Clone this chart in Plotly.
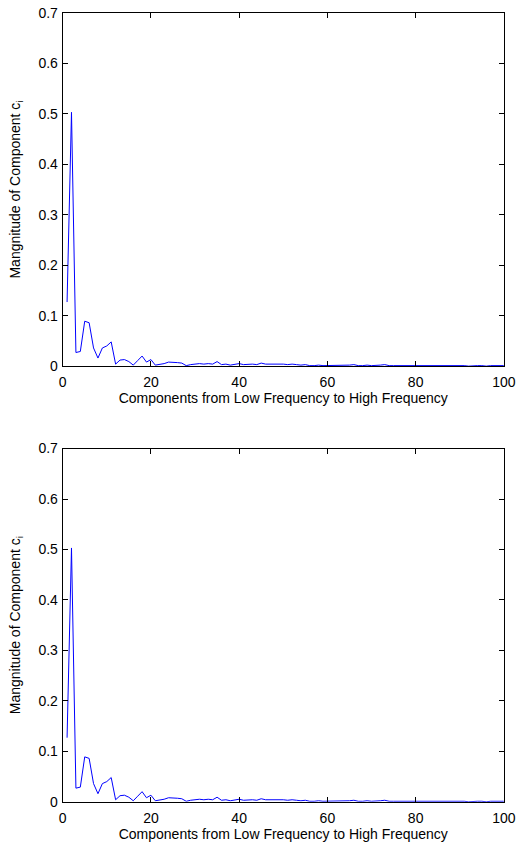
import plotly.graph_objects as go

components = list(range(1, 101))
magnitude = [
    0.127, 0.503, 0.027, 0.029, 0.089, 0.086, 0.036, 0.016, 0.036, 0.040,
    0.048, 0.004, 0.012, 0.013, 0.009, 0.002, 0.011, 0.020, 0.008, 0.013,
    0.002, 0.003, 0.005, 0.008, 0.008, 0.007, 0.006, 0.001, 0.003, 0.004,
    0.005, 0.004, 0.005, 0.004, 0.009, 0.003, 0.004, 0.002, 0.004, 0.005,
    0.003, 0.004, 0.004, 0.003, 0.006, 0.004, 0.004, 0.005, 0.004, 0.004,
    0.003, 0.004, 0.003, 0.002, 0.003, 0.001, 0.001, 0.002, 0.001, 0.001,
    0.001, 0.002, 0.001, 0.001, 0.002, 0.003, 0.001, 0.001, 0.002, 0.001,
    0.001, 0.002, 0.003, 0.001, 0.001, 0.001, 0.001, 0.001, 0.002, 0.001,
    0.001, 0.001, 0.002, 0.001, 0.002, 0.001, 0.001, 0.001, 0.001, 0.002,
    0.001, 0.000, 0.001, 0.001, 0.001, 0.000, 0.001, 0.001, 0.000, 0.001,
]
x_ticks = [0, 20, 40, 60, 80, 100]
y_ticks = [0, 0.1, 0.2, 0.3, 0.4, 0.5, 0.6, 0.7]
y_ticklabels = ["0", "0.1", "0.2", "0.3", "0.4", "0.5", "0.6", "0.7"]
x_title = "Components from Low Frequency to High Frequency"
y_title = "Mangnitude of Component c<sub>i</sub>"

W, H = 528, 850


def fx(s):
    return s / W


def fy(s):
    return (H - s) / H


fig = go.Figure()
font = dict(family="Liberation Sans, Arial, sans-serif", size=14, color="black")

xdom = [fx(60.5), fx(515.5)]
ydoms = [[fy(365), fy(5)], [fy(809), fy(449)]]

for i, yd in enumerate(ydoms):
    xa = "x" if i == 0 else "x2"
    ya = "y" if i == 0 else "y2"
    fig.add_trace(go.Scatter(x=components, y=magnitude, mode="lines",
                             line=dict(color="#0000ff", width=1),
                             xaxis=xa, yaxis=ya, showlegend=False))
    axcommon = dict(showline=True, linecolor="black", linewidth=1, mirror="ticks",
                    ticks="inside", ticklen=5, tickcolor="black", showgrid=False,
                    zeroline=False, tickfont=font)
    xkey = "xaxis" if i == 0 else "xaxis2"
    ykey = "yaxis" if i == 0 else "yaxis2"
    fig.update_layout(**{
        xkey: dict(domain=xdom, range=[0, 100], tickvals=x_ticks, anchor=ya,
                   ticklabelstandoff=3,
                   title=dict(text=x_title, font=font, standoff=2), **axcommon),
        ykey: dict(domain=yd, range=[0, 0.7], tickvals=y_ticks, ticktext=y_ticklabels,
                   anchor=xa, ticklabelstandoff=1,
                   title=dict(text=y_title, font=font, standoff=14), **axcommon),
    })

fig.update_layout(width=W, height=H, margin=dict(l=0, r=0, t=0, b=0),
                  plot_bgcolor="white", paper_bgcolor="white", font=font)
fig.write_html("out.html", config={"displayModeBar": False},
               post_script="document.body.style.margin='0';document.body.style.overflow='hidden';")
